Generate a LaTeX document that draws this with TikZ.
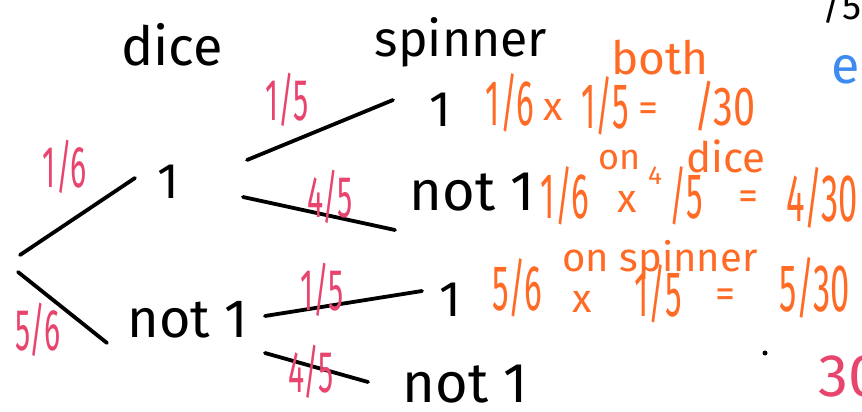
\documentclass[tikz,border=0pt]{standalone}
\usepackage{graphicx}
\usepackage{fontspec}
\setmainfont{Fira Sans}
\newcommand\hw[1]{\fontsize{#1}{#1}\selectfont}
\newcommand\frc[1]{\scalebox{0.72}[1.4]{#1}}
\newcommand\frcw[1]{\scalebox{0.9}[1.25]{#1}}
\definecolor{inkpink}{HTML}{E8456E}
\definecolor{inkorange}{HTML}{FF6A25}
\definecolor{inkblue}{HTML}{3D8BF0}
\tikzset{
  ink/.style={text=black, inner sep=0pt},
  pinklbl/.style={text=inkpink, inner sep=0pt, font=\hw{42}},
  orng/.style={text=inkorange, inner sep=0pt},
  branch/.style={draw=black, line width=3.8pt, line cap=round},
}
\begin{document}
\begin{tikzpicture}[x=1pt,y=-1pt]
\useasboundingbox (0,0) rectangle (862,412);
\clip (0,0) rectangle (862,412);
% headings
\node[ink, font=\hw{54}] (dice) at (172,45) {dice};
\node[ink, font=\hw{50}] (spinner) at (461,42) {spinner};
% dice outcomes
\node[ink, font=\hw{50}] (d1) at (168,182) {1};
\node[ink, font=\hw{54}] (dn) at (188,320) {not 1};
% spinner outcomes
\node[ink, font=\hw{50}] (s1) at (440,110) {1};
\node[ink, font=\hw{56}] (s2) at (472,192) {not 1};
\node[ink, font=\hw{50}] (s3) at (450,300) {1};
\node[ink, font=\hw{56}] (s4) at (465,384) {not 1};
% branch ends
\coordinate (root1) at (20,255);
\coordinate (root2) at (18,272);
\coordinate (a1) at (135,178);
\coordinate (a2) at (107,343);
\coordinate (b1) at (247,160);
\coordinate (b1e) at (393,100);
\coordinate (b2) at (243,197);
\coordinate (b2e) at (395,230);
\coordinate (c1) at (265,316);
\coordinate (c1e) at (422,291);
\coordinate (c2) at (265,353);
\coordinate (c2e) at (368,382);
\draw[branch] (root1) -- (a1);
\draw[branch] (root2) -- (a2);
\draw[branch] (b1) -- (b1e);
\draw[branch] (b2) -- (b2e);
\draw[branch] (c1) -- (c1e);
\draw[branch] (c2) -- (c2e);
% pink probabilities
\node[pinklbl] (p1) at (65,167) {\frc{1/6}};
\node[pinklbl] (p2) at (38,330) {\frc{5/6}};
\node[pinklbl] (p3) at (287,100) {\frc{1/5}};
\node[pinklbl] (p4) at (330,197) {\frc{4/5}};
\node[pinklbl] (p5) at (322,290) {\frc{1/5}};
\node[pinklbl] (p6) at (311,372) {\frc{4/5}};
\node[text=inkpink, inner sep=0pt, font=\hw{60}] (p7) at (850,376) {30};
% orange working, line 1
\node[orng, font=\hw{46}] (both) at (660,58) {both};
\node[orng, font=\hw{46}] (e1a) at (510,103) {\frc{1/6}};
\node[orng, font=\hw{40}] (e1b) at (553,110) {x};
\node[orng, font=\hw{46}] (e1c) at (605,106) {\frc{1/5}};
\node[orng, font=\hw{40}] (e1d) at (648,112) {=};
\node[orng, font=\hw{44}] (e1e) at (725,106) {\frcw{/30}};
% line 2
\node[orng, font=\hw{36}] (on1) at (620,160) {on};
\node[orng, font=\hw{42}] (dice2) at (726,156) {dice};
\node[orng, font=\hw{46}] (e2a) at (565,196) {\frc{1/6}};
\node[orng, font=\hw{40}] (e2b) at (627,202) {x};
\node[orng, font=\hw{26}] (e2c) at (655,176) {4};
\node[orng, font=\hw{46}] (e2d) at (686,196) {\frc{/5}};
\node[orng, font=\hw{40}] (e2e) at (748,200) {=};
\node[orng, font=\hw{48}] (e2f) at (822,198) {\frc{4/30}};
% line 3
\node[orng, font=\hw{40}] (onsp) at (660,260) {on spinner};
\node[orng, font=\hw{46}] (e3a) at (517,288) {\frc{5/6}};
\node[orng, font=\hw{40}] (e3b) at (582,302) {x};
\node[orng, font=\hw{46}] (e3c) at (658,294) {\frc{1/5}};
\node[orng, font=\hw{40}] (e3d) at (725,298) {=};
\node[orng, font=\hw{48}] (e3e) at (815,288) {\frc{5/30}};
% fragments at the right edge
\node[text=inkblue, inner sep=0pt, font=\hw{52}] (blue) at (846,70) {e};
\node[ink, font=\hw{38}] (topr) at (842,6) {/5};
\fill[black] (765,353) circle (2.5);
\end{tikzpicture}
\end{document}
